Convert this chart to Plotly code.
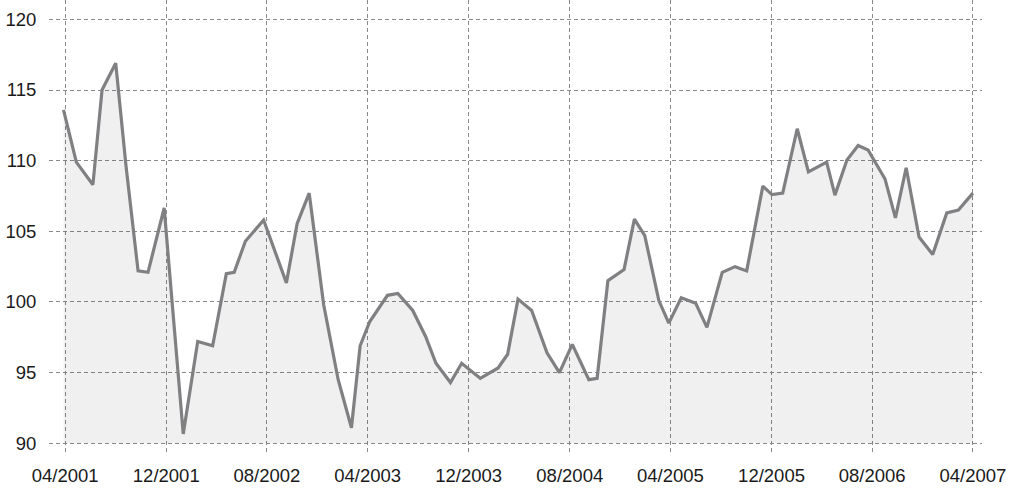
import plotly.graph_objects as go

dates = [
    "2001-03-28", "2001-04-28", "2001-06-07", "2001-06-29", "2001-08-01",
    "2001-08-26", "2001-09-24", "2001-10-18", "2001-11-26", "2002-01-11",
    "2002-02-15", "2002-03-23", "2002-04-25", "2002-05-14", "2002-06-10",
    "2002-07-24", "2002-09-17", "2002-10-13", "2002-11-11", "2002-12-16",
    "2003-01-20", "2003-02-21", "2003-03-14", "2003-04-06", "2003-05-19",
    "2003-06-13", "2003-07-19", "2003-08-19", "2003-09-13", "2003-10-18",
    "2003-11-14", "2003-12-29", "2004-02-10", "2004-03-04", "2004-03-29",
    "2004-05-01", "2004-06-07", "2004-07-07", "2004-08-07", "2004-09-16",
    "2004-10-06", "2004-11-01", "2004-12-10", "2005-01-04", "2005-01-29",
    "2005-03-04", "2005-03-28", "2005-04-27", "2005-06-01", "2005-06-28",
    "2005-08-04", "2005-09-04", "2005-10-02", "2005-11-10", "2005-12-02",
    "2005-12-28", "2006-02-01", "2006-02-28", "2006-04-13", "2006-05-03",
    "2006-06-01", "2006-06-28", "2006-07-22", "2006-09-01", "2006-09-26",
    "2006-10-22", "2006-11-22", "2006-12-25", "2007-01-28", "2007-02-25",
    "2007-04-01",
]

values = [
    113.6, 109.9, 108.3, 115.0, 116.9,
    109.6, 102.2, 102.1, 106.65, 90.66,
    97.2, 96.9, 102.0, 102.1, 104.3,
    105.8, 101.35, 105.55, 107.7, 99.8,
    94.5, 91.1, 96.9, 98.6, 100.47,
    100.6, 99.4, 97.56, 95.66, 94.3,
    95.66, 94.6, 95.33, 96.3, 100.2,
    99.4, 96.4, 95.0, 97.0, 94.5,
    94.6, 101.5, 102.3, 105.86, 104.7,
    100.1, 98.5, 100.3, 99.9, 98.2,
    102.1, 102.5, 102.2, 108.2, 107.6,
    107.7, 112.26, 109.2, 109.9, 107.56,
    110.05, 111.07, 110.76, 108.7, 105.95,
    109.5, 104.6, 103.36, 106.3, 106.5,
    107.7,
]

tick_vals = ["2001-04-01", "2001-12-01", "2002-08-01", "2003-04-01", "2003-12-01",
             "2004-08-01", "2005-04-01", "2005-12-01", "2006-08-01", "2007-04-01"]
tick_text = ["04/2001", "12/2001", "08/2002", "04/2003", "12/2003",
             "08/2004", "04/2005", "12/2005", "08/2006", "04/2007"]

y_ticks = [90, 95, 100, 105, 110, 115, 120]
baseline = 90

fig = go.Figure()
fig.add_trace(go.Scatter(
    x=dates, y=[baseline] * len(dates), mode="lines",
    line=dict(width=0), hoverinfo="skip", showlegend=False,
))
fig.add_trace(go.Scatter(
    x=dates, y=values, mode="lines",
    line=dict(color="#808083", width=3.2),
    fill="tonexty", fillcolor="rgba(0,0,0,0.06)",
    showlegend=False,
))

font_family = "Liberation Sans, Arial, sans-serif"

fig.update_layout(
    width=1017, height=489,
    margin=dict(l=49, r=35, t=0, b=34),
    paper_bgcolor="white", plot_bgcolor="white",
    font=dict(family=font_family, size=18.5, color="#1a1a1a"),
    xaxis=dict(
        type="date",
        range=["2001-02-21", "2007-04-23"],
        tickvals=tick_vals, ticktext=tick_text,
        showgrid=True, gridcolor="#8a8a8a", gridwidth=1, griddash="4px,3px",
        zeroline=False, showline=False, automargin=False,
        ticks="outside", ticklen=4, tickcolor="rgba(0,0,0,0)",
    ),
    yaxis=dict(
        range=[89.17, 121.37],
        tickvals=y_ticks,
        showgrid=True, gridcolor="#8a8a8a", gridwidth=1, griddash="4px,3px",
        zeroline=False, showline=False, automargin=False,
        ticks="outside", ticklen=8, tickcolor="rgba(0,0,0,0)",
    ),
)

fig.write_html(
    "out.html",
    config={"displayModeBar": False},
    post_script="document.body.style.margin='0';document.body.style.overflow='hidden';",
)
